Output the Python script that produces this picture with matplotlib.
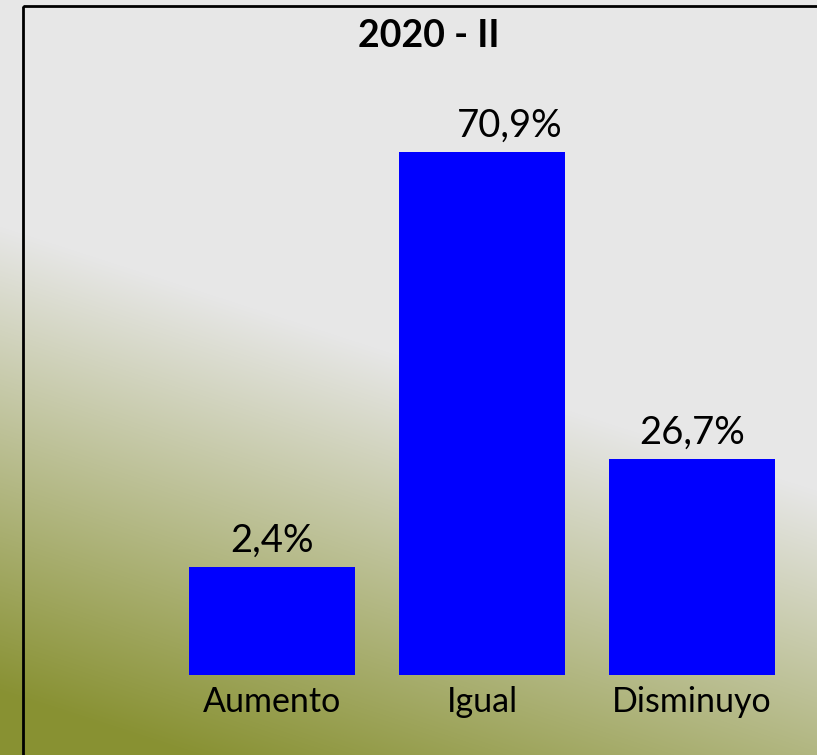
import numpy as np
import matplotlib
matplotlib.use("Agg")
import matplotlib.pyplot as plt
from matplotlib.patches import Rectangle
import matplotlib.transforms as mtransforms

plt.rcParams['font.family'] = ['Lato', 'DejaVu Sans']

# data
titulo = "2020 - II"
categorias = ["Aumento", "Igual", "Disminuyo"]
porcentajes = [2.4, 70.9, 26.7]
etiquetas = ["2,4%", "70,9%", "26,7%"]
# bar heights as drawn in the picture (not proportional to the labels)
alturas = [14.6, 70.9, 29.3]

W, H = 817, 755
fig = plt.figure(figsize=(W / 100, H / 100), dpi=100)

# background gradient: grey top / right, olive bottom-left
bg = fig.add_axes([0, 0, 1, 1])
yy, xx = np.mgrid[0:1:H * 1j, 0:1:W * 1j]
w = np.clip((yy - 0.3 - 0.35 * xx) / 0.62, 0, 1)[..., None]
grey = np.array([231, 231, 231]) / 255
olive = np.array([136, 145, 50]) / 255
img = grey * (1 - w) + olive * w
bg.imshow(img, extent=[0, W, H, 0], aspect='auto')
bg.set_xlim(0, W)
bg.set_ylim(H, 0)
bg.axis('off')

# border (runs off the right and bottom edges)
bg.add_patch(Rectangle((23, 6), 900, 900, fill=False, edgecolor='black', lw=2.0))

bg.text(429, 36, titulo, ha='center', va='center', fontsize=27,
        fontweight='bold', color='black')

# bars
ax = fig.add_axes([167 / W, 1 - 675 / H, 630 / W, 590 / H])
ax.patch.set_alpha(0)
x = np.arange(len(categorias))
ax.bar(x, alturas, width=0.795, color='#0000FF')
ax.set_xlim(-0.5, 2.5)
ax.set_ylim(0, 80)
ax.axis('off')

label_dx = [0, 28, 0]
for i, (h, t) in enumerate(zip(alturas, etiquetas)):
    ax.annotate(t, (x[i], h), xytext=(label_dx[i] * 0.72, 6),
                textcoords='offset points', ha='center', va='bottom',
                fontsize=27.5, color='black')

trans = mtransforms.blended_transform_factory(ax.transData, fig.transFigure)
for i, c in enumerate(categorias):
    ax.text(x[i], 1 - 702 / H, c, transform=trans, ha='center', va='center',
            fontsize=24.5, color='black')

fig.savefig("out.png", dpi=100)
